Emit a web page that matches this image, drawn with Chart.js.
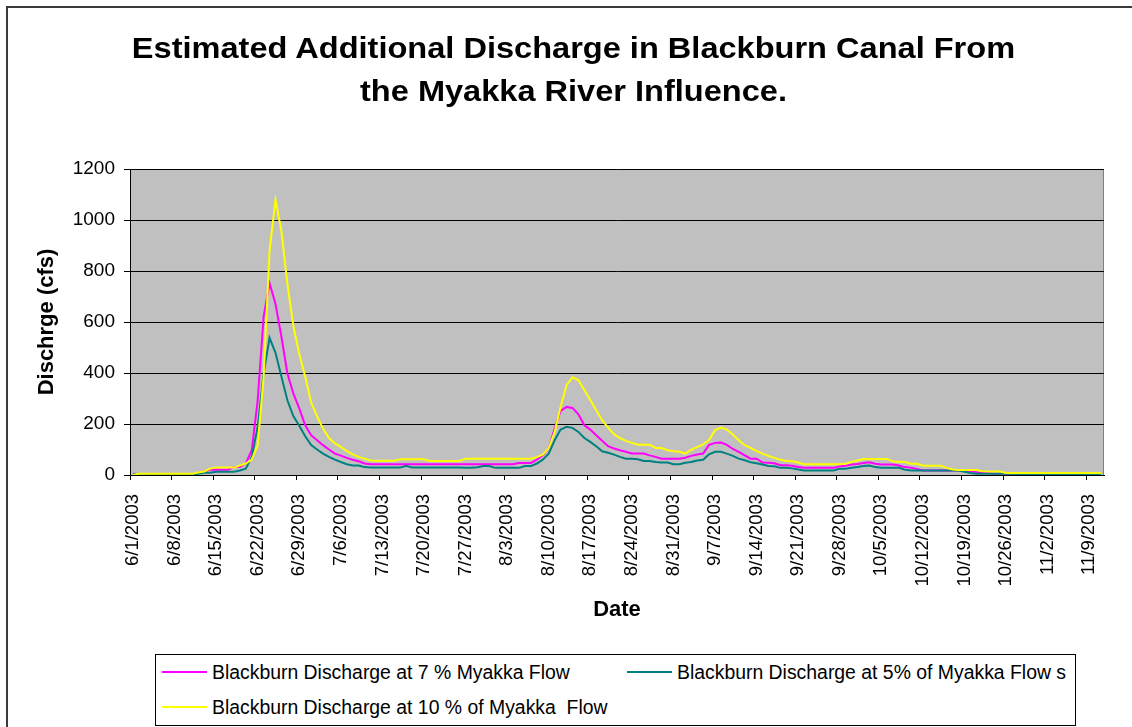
<!DOCTYPE html>
<html>
<head>
<meta charset="utf-8">
<script src="https://cdn.jsdelivr.net/npm/chart.js@4.4.0/dist/chart.umd.min.js"></script>
<style>
  html, body { margin: 0; padding: 0; background: #fff; overflow: hidden; }
  #wrap { position: relative; width: 1132px; height: 727px; overflow: hidden; font-family: "Liberation Sans", Arial, sans-serif; color: #000; }
  #frame { position: absolute; left: 6px; top: 6px; width: 1300px; height: 900px; border: 2px solid #3a3a3a; }
  canvas { position: absolute; left: 0; top: 0; }
  .title { position: absolute; left: 0; width: 1147px; text-align: center; font-weight: bold; font-size: 30px; line-height: 36px; white-space: nowrap; transform: scaleX(1.085); transform-origin: 573.5px 0; }
  #legend { position: absolute; left: 155px; top: 654px; width: 919px; height: 70px; border: 1px solid #000; background: #fff; }
  .item { position: absolute; height: 24px; display: flex; align-items: center; font-size: 19.4px; white-space: pre; }
  .swatch { width: 45px; height: 2px; margin-right: 5px; }
</style>
</head>
<body>
<div id="wrap">
  <div id="frame"></div>
  <canvas id="chart" width="1132" height="727"></canvas>
  <div class="title" style="top:30px">Estimated Additional Discharge in Blackburn Canal From</div>
  <div class="title" style="top:73px">the Myakka River Influence.</div>
  <div id="legend"></div>
</div>
<script>
// Daily dates, 6/1/2003 through 11/11/2003
const dates = [
  '6/1/2003','6/2/2003','6/3/2003','6/4/2003','6/5/2003','6/6/2003','6/7/2003','6/8/2003','6/9/2003','6/10/2003',
  '6/11/2003','6/12/2003','6/13/2003','6/14/2003','6/15/2003','6/16/2003','6/17/2003','6/18/2003','6/19/2003','6/20/2003',
  '6/21/2003','6/22/2003','6/23/2003','6/24/2003','6/25/2003','6/26/2003','6/27/2003','6/28/2003','6/29/2003','6/30/2003',
  '7/1/2003','7/2/2003','7/3/2003','7/4/2003','7/5/2003','7/6/2003','7/7/2003','7/8/2003','7/9/2003','7/10/2003',
  '7/11/2003','7/12/2003','7/13/2003','7/14/2003','7/15/2003','7/16/2003','7/17/2003','7/18/2003','7/19/2003','7/20/2003',
  '7/21/2003','7/22/2003','7/23/2003','7/24/2003','7/25/2003','7/26/2003','7/27/2003','7/28/2003','7/29/2003','7/30/2003',
  '7/31/2003','8/1/2003','8/2/2003','8/3/2003','8/4/2003','8/5/2003','8/6/2003','8/7/2003','8/8/2003','8/9/2003',
  '8/10/2003','8/11/2003','8/12/2003','8/13/2003','8/14/2003','8/15/2003','8/16/2003','8/17/2003','8/18/2003','8/19/2003',
  '8/20/2003','8/21/2003','8/22/2003','8/23/2003','8/24/2003','8/25/2003','8/26/2003','8/27/2003','8/28/2003','8/29/2003',
  '8/30/2003','8/31/2003','9/1/2003','9/2/2003','9/3/2003','9/4/2003','9/5/2003','9/6/2003','9/7/2003','9/8/2003',
  '9/9/2003','9/10/2003','9/11/2003','9/12/2003','9/13/2003','9/14/2003','9/15/2003','9/16/2003','9/17/2003','9/18/2003',
  '9/19/2003','9/20/2003','9/21/2003','9/22/2003','9/23/2003','9/24/2003','9/25/2003','9/26/2003','9/27/2003','9/28/2003',
  '9/29/2003','9/30/2003','10/1/2003','10/2/2003','10/3/2003','10/4/2003','10/5/2003','10/6/2003','10/7/2003','10/8/2003',
  '10/9/2003','10/10/2003','10/11/2003','10/12/2003','10/13/2003','10/14/2003','10/15/2003','10/16/2003','10/17/2003','10/18/2003',
  '10/19/2003','10/20/2003','10/21/2003','10/22/2003','10/23/2003','10/24/2003','10/25/2003','10/26/2003','10/27/2003','10/28/2003',
  '10/29/2003','10/30/2003','10/31/2003','11/1/2003','11/2/2003','11/3/2003','11/4/2003','11/5/2003','11/6/2003','11/7/2003',
  '11/8/2003','11/9/2003','11/10/2003','11/11/2003'
];

// Discharge (cfs) at 7 % of Myakka flow
const flow7 = [
  4,4,4,4,4,4,4,4,4,4,
  4,8,14,21,21,21,21,31,31,45,
  97,293,621,752,671,542,398,320,261,195,
  156,136,117,100,84,76,67,60,54,45,
  42,42,42,42,42,42,42,42,42,42,
  42,42,42,42,42,42,42,42,42,42,
  42,42,42,42,42,47,47,47,60,77,
  104,182,251,267,263,238,195,178,156,134,
  113,104,97,91,84,84,84,77,71,64,
  64,64,64,68,75,80,84,118,126,127,
  118,102,91,77,64,64,49,48,46,38,
  38,36,31,28,28,28,28,28,28,34,
  36,41,43,47,50,44,41,41,41,37,
  31,28,24,18,18,18,18,18,18,18,
  18,16,12,11,8,5,5,5,5,5,
  5,5,5,5,5,5,5,5,5,5,
  5,5,5,5
];

// Discharge (cfs) at 5 % of Myakka flows
const flow5 = [
  5,2,2,2,2,2,2,2,2,2,
  2,5,9,9,13,13,13,13,18,25,
  71,189,398,538,479,385,293,231,193,152,
  117,100,84,71,60,51,42,37,37,31,
  29,29,29,29,29,29,36,29,29,29,
  29,29,29,29,29,29,28,28,30,35,
  35,28,28,28,28,28,35,35,45,60,
  84,136,178,189,185,169,145,130,113,93,
  87,80,71,64,64,62,55,55,51,49,
  49,42,42,48,51,57,60,81,91,91,
  84,75,64,58,50,46,41,35,34,28,
  28,26,22,18,18,18,18,18,18,25,
  25,28,31,35,37,31,28,28,28,28,
  21,18,18,18,18,18,18,18,18,18,
  13,8,5,5,5,5,5,5,5,3,
  3,3,3,3,3,3,3,3,3,3,
  3,3,3,3
];

// Discharge (cfs) at 10 % of Myakka flow
const flow10 = [
  0,5,5,5,5,5,5,5,5,5,
  5,10,14,25,29,29,29,29,37,45,
  60,117,385,880,1080,955,750,585,475,385,
  285,230,182,145,124,110,94,81,71,64,
  57,56,56,56,56,62,62,62,62,62,
  55,55,55,55,55,55,64,64,64,64,
  64,64,64,64,64,64,64,64,70,80,
  105,169,267,352,383,372,333,294,254,215,
  186,160,145,134,126,119,119,119,106,106,
  97,93,92,84,99,109,120,137,176,186,
  178,159,136,117,106,94,84,75,67,60,
  55,54,49,42,42,42,42,42,42,42,
  44,51,57,63,63,63,63,63,53,52,
  51,44,44,37,36,36,36,28,22,20,
  20,20,20,15,14,14,14,8,8,8,
  8,8,8,8,8,8,8,8,8,8,
  8,8,8,8
];

const seriesNames = [
  'Blackburn Discharge at 7 % Myakka Flow',
  'Blackburn Discharge at 5% of Myakka Flow s',
  'Blackburn Discharge at 10 % of Myakka  Flow'
];
const seriesColors = ['#FF00FF', '#008080', '#FFFF00'];
const yTicks = [0, 200, 400, 600, 800, 1000, 1200];
const labelEvery = 7;

const FONT = 'Liberation Sans';

// Gray plot area with a gray right edge
const plotArea = {
  id: 'plotArea',
  beforeDraw(chart) {
    const { ctx, chartArea: a } = chart;
    ctx.save();
    ctx.fillStyle = '#C0C0C0';
    ctx.fillRect(a.left, a.top, a.right - a.left, a.bottom - a.top);
    ctx.strokeStyle = '#808080';
    ctx.lineWidth = 1;
    ctx.beginPath();
    ctx.moveTo(a.right - 0.5, a.top);
    ctx.lineTo(a.right - 0.5, a.bottom);
    ctx.stroke();
    ctx.restore();
  }
};

const chart = new Chart(document.getElementById('chart'), {
  type: 'line',
  data: {
    labels: dates,
    datasets: [
      { label: seriesNames[0], data: flow7, borderColor: seriesColors[0], backgroundColor: seriesColors[0], order: 2 },
      { label: seriesNames[1], data: flow5, borderColor: seriesColors[1], backgroundColor: seriesColors[1], order: 1 },
      { label: seriesNames[2], data: flow10, borderColor: seriesColors[2], backgroundColor: seriesColors[2], order: 0 }
    ]
  },
  options: {
    responsive: false,
    animation: false,
    devicePixelRatio: 1,
    layout: { padding: { left: 10, right: 28, top: 169, bottom: 100 } },
    elements: {
      line: { tension: 0, borderWidth: 2, fill: false },
      point: { radius: 0, hoverRadius: 0 }
    },
    plugins: {
      legend: { display: false },
      title: { display: false },
      tooltip: { enabled: false }
    },
    scales: {
      x: {
        type: 'category',
        offset: true,
        grid: {
          offset: true,
          drawOnChartArea: false,
          drawTicks: true,
          tickLength: 5,
          lineWidth: 1,
          color: c => (c.index !== undefined && c.index % labelEvery === 0) ? '#000' : 'rgba(0,0,0,0)'
        },
        border: { display: true, color: '#000', width: 1 },
        ticks: {
          autoSkip: false,
          minRotation: 90,
          maxRotation: 90,
          padding: 14,
          color: '#000',
          font: { family: FONT, size: 18.5 },
          callback: (v, i) => (i % labelEvery === 0 ? dates[i] : '')
        },
        title: {
          display: true,
          text: 'Date',
          color: '#000',
          font: { family: FONT, size: 22, weight: 'bold' },
          padding: { top: 0, bottom: 4 }
        },
        afterFit: s => {
          s.height = 152;
          s.paddingLeft = 0;
          s.paddingRight = 0;
        }
      },
      y: {
        min: yTicks[0],
        max: yTicks[yTicks.length - 1],
        grid: { color: '#000', lineWidth: 1, drawTicks: true, tickLength: 6 },
        border: { display: true, color: '#000', width: 1 },
        ticks: {
          stepSize: yTicks[1] - yTicks[0],
          padding: 9,
          color: '#000',
          font: { family: FONT, size: 19 },
          callback: v => String(v)
        },
        title: {
          display: true,
          text: 'Dischrge (cfs)',
          color: '#000',
          font: { family: FONT, size: 22, weight: 'bold' },
          padding: { top: 24, bottom: 0 }
        },
        afterFit: s => {
          s.width = 120;
          s.paddingTop = 0;
          s.paddingBottom = 0;
        }
      }
    }
  },
  plugins: [plotArea]
});

// Boxed legend below the axis title, built from the chart's datasets
const legendSlots = [ { left: 6, top: 5 }, { left: 471, top: 5 }, { left: 6, top: 40 } ];
const legendEl = document.getElementById('legend');
chart.data.datasets.forEach((ds, i) => {
  const item = document.createElement('div');
  item.className = 'item';
  item.style.left = legendSlots[i].left + 'px';
  item.style.top = legendSlots[i].top + 'px';
  const sw = document.createElement('span');
  sw.className = 'swatch';
  sw.style.background = ds.borderColor;
  const tx = document.createElement('span');
  tx.textContent = ds.label;
  item.appendChild(sw);
  item.appendChild(tx);
  legendEl.appendChild(item);
});
</script>
</body>
</html>
